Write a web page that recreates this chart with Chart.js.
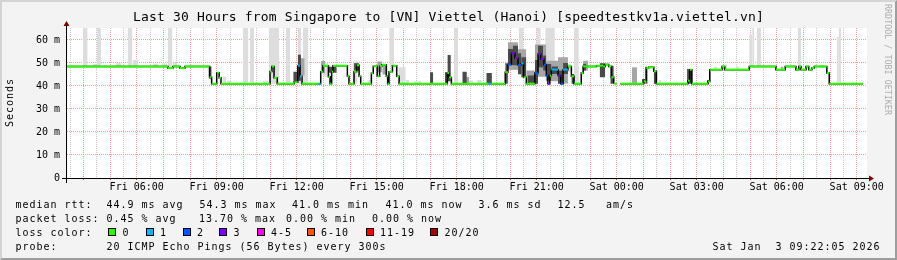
<!DOCTYPE html>
<html>
<head>
<meta charset="utf-8">
<script src="https://cdn.jsdelivr.net/npm/chart.js@4/dist/chart.umd.min.js"></script>
<style>
  html, body { margin: 0; padding: 0; background: #f3f3f3; }
  #wrap { position: relative; width: 897px; height: 260px; background: #f3f3f3; overflow: hidden; }
  #frame { position: absolute; left: 0; top: 0; width: 897px; height: 260px; box-sizing: border-box;
    border-top: 2px solid #d4d4d4; border-left: 2px solid #d4d4d4; border-right: 2px solid #9e9e9e; border-bottom: 2px solid #9e9e9e;
    pointer-events: none; z-index: 5; }
  canvas { position: absolute; left: 0; top: 0; }
  .t { position: absolute; font-family: 'DejaVu Sans Mono', monospace; white-space: pre; color: #000; line-height: 12px; }
  .lg { font-size: 10px; letter-spacing: 0.98px; }
  .box { position: absolute; width: 8px; height: 8px; box-sizing: border-box; border: 1px solid #000; }
</style>
</head>
<body>
<div id="wrap">
  <canvas id="smokeChart" width="897" height="260"></canvas>
  <div class="t" style="left:0;width:897px;text-align:center;top:9px;font-size:13px;line-height:16px;letter-spacing:0.16px;">Last 30 Hours from Singapore to [VN] Viettel (Hanoi) [speedtestkv1a.viettel.vn]</div>
  <div class="t lg" style="left:0;top:0;transform-origin:0 0;transform:translate(4px,127px) rotate(-90deg);">Seconds</div>
  <div class="t" style="left:0;top:0;font-size:8.4px;line-height:10px;color:#ababab;transform-origin:0 0;transform:translate(893px,4px) rotate(90deg);">RRDTOOL / TOBI OETIKER</div>
  <div id="legend"></div>
  <div id="frame"></div>
</div>
<script>
// time axis in hours since Fri 00:00
const xStart = 3.386, xEnd = 33.386;
const tickHours = [6, 9, 12, 15, 18, 21, 24, 27, 30, 33];
const tickLabels = ['Fri 06:00', 'Fri 09:00', 'Fri 12:00', 'Fri 15:00', 'Fri 18:00', 'Fri 21:00', 'Sat 00:00', 'Sat 03:00', 'Sat 06:00', 'Sat 09:00'];
const yMax = 65.2;

// median rtt, one entry per step (start hour, ms, loss class)
const medianHours = [
  3.39, 7.17, 7.36, 7.62, 7.81, 8.73, 8.81, 9.00, 9.09, 9.16,
  11.00, 11.07, 11.15, 11.27, 11.91, 12.04, 12.12, 12.20, 12.82, 12.90,
  12.98, 13.19, 13.25, 13.31, 13.36, 13.90, 13.96, 14.15, 14.25, 14.34,
  14.40, 14.80, 14.87, 15.02, 15.11, 15.20, 15.36, 15.41, 15.46, 15.59,
  15.75, 15.84, 17.65, 17.71, 17.80, 19.20, 19.30, 19.82, 19.92, 20.05,
  20.18, 20.30, 20.42, 20.51, 20.61, 20.93, 21.05, 21.15, 21.27, 21.36,
  21.42, 21.49, 21.55, 21.80, 21.90, 21.99, 22.17, 22.30, 22.40, 22.67,
  22.74, 23.24, 23.49, 23.57, 23.70, 23.80, 23.89, 24.01, 24.14, 25.01,
  25.11, 25.20, 25.39, 25.49, 26.67, 26.74, 26.82, 27.42, 27.49, 27.95,
  28.05, 28.97, 29.97, 30.32, 30.72, 30.83, 30.91, 31.10, 31.20, 31.32,
  31.41, 31.88, 31.97
];
const medianMs = [
  48.5, 47.8, 48.5, 47.8, 48.5, 43.8, 41, 45.8, 43.6, 41,
  46.3, 48.5, 43.6, 41, 41.6, 48.8, 44.2, 41, 41, 46.2,
  48.8, 44, 41, 46.2, 48.8, 44.2, 41, 46.2, 49, 44.2,
  41, 45.5, 48.6, 44.2, 48.7, 49.2, 44.2, 41, 46.2, 48.8,
  44.2, 41, 45.6, 43.7, 41, 41, 41, 46, 49.3, 54.2,
  52.2, 49.1, 49.8, 43.8, 41, 45.6, 53.9, 51.7, 49.3, 44.6,
  41, 44.5, 47.1, 44.5, 41, 47.1, 48.5, 44.2, 41, 45.6,
  48.5, 48.8, 48.5, 49.3, 48.5, 43.8, 41, null, 41, 42,
  47.8, 48.1, 46.4, 41, 42.3, 47.1, 41, 42, 47.1, 48.5,
  47.1, 48.5, 47.1, 48.5, 47.1, 48.5, 47.1, 48.5, 47.1, 47.8,
  48.5, 45.6, 41
];
const medianLoss = [
  0, 0, 0, 0, 0, 0, 0, 0, 0, 0,
  0, 0, 0, 0, 0, 1, 1, 0, 1, 0,
  0, 0, 0, 0, 0, 0, 0, 0, 0, 0,
  0, 0, 0, 0, 0, 0, 0, 0, 0, 0,
  0, 0, 0, 0, 0, 1, 0, 0, 2, 3,
  3, 2, 1, 0, 0, 2, 3, 3, 2, 2,
  3, 0, 1, 3, 2, 1, 0, 0, 0, 0,
  0, 0, 0, 0, 0, 0, 0, 0, 0, 0,
  0, 0, 0, 0, 0, 0, 0, 0, 0, 0,
  0, 0, 0, 0, 0, 0, 0, 0, 0, 0,
  0, 0, 0
];
const medianEnd = 33.23;

const lossLabels = ['0', '1', '2', '3', '4-5', '6-10', '11-19', '20/20'];
const lossColors = ['#26ff00', '#00b8ff', '#0059ff', '#7e00ff', '#ff00ff', '#ff5500', '#ff0000', '#a10000'];

// smoke: [from hour, to hour, low ms, high ms]
const smokeLight = [
  [3.98, 4.16, 48.5, 70], [4.35, 4.50, 48.5, 49.6], [4.50, 4.66, 48.5, 70], [5.22, 5.41, 48.5, 50],
  [5.66, 5.84, 48.5, 70], [5.86, 6.05, 48.5, 51.3], [6.61, 6.80, 48.5, 49.7], [6.95, 7.14, 48.5, 49.8],
  [7.17, 7.34, 48.5, 70], [7.36, 7.51, 48.5, 50], [9.22, 9.35, 41, 44], [9.38, 9.56, 41, 42.3],
  [9.98, 10.19, 41, 70], [10.25, 10.40, 41, 70], [10.73, 10.94, 41, 42.3], [10.96, 11.35, 41, 70],
  [11.60, 11.75, 41, 70], [12.04, 12.16, 41, 70], [12.23, 12.44, 41, 70], [13.00, 13.19, 44, 49.9],
  [14.09, 14.27, 41, 50.7], [14.65, 14.78, 41, 42.6], [15.47, 15.65, 48.8, 70], [15.81, 16.09, 41, 48.1],
  [16.09, 16.21, 41, 42.6], [16.40, 16.67, 41, 42], [17.90, 18.05, 41, 70], [18.43, 18.62, 41, 42.3],
  [18.75, 18.94, 41, 42.6], [20.33, 20.49, 45, 70], [20.99, 21.15, 45, 70], [21.32, 21.68, 42, 70],
  [22.17, 22.30, 46, 49.6], [22.40, 22.58, 41, 70], [25.57, 25.67, 41, 42.6], [27.64, 27.76, 47.1, 48.4],
  [28.05, 28.14, 47.1, 49.3], [28.48, 28.60, 47.1, 48.4], [28.97, 29.08, 48.5, 62.3], [29.08, 29.16, 48.5, 70],
  [29.25, 29.41, 48.5, 70], [30.79, 30.91, 48.5, 70], [32.25, 32.33, 41, 61.4], [32.33, 32.41, 41, 70],
  [32.79, 32.93, 41, 41.6]
];
const smokeMid = [
  [12.14, 12.30, 44.5, 52], [12.90, 13.06, 45.5, 50.9], [15.02, 15.21, 46, 50.6], [15.21, 15.40, 45, 49.6],
  [18.35, 18.47, 41, 44], [19.92, 20.30, 47, 59], [20.30, 20.61, 45, 56], [20.61, 20.93, 41, 46.7],
  [20.93, 21.36, 44, 58], [21.36, 21.80, 42, 51], [21.80, 22.17, 41, 52.5], [22.74, 22.93, 46.7, 51],
  [24.57, 24.76, 41, 48.1], [30.16, 30.26, 47.1, 48.4]
];
const smokeDark = [
  [8.72, 8.81, 43, 48.5], [11.87, 12.04, 41.5, 46.2], [12.04, 12.16, 42.3, 53.6], [13.19, 13.50, 45.8, 48.4],
  [14.15, 14.34, 46.6, 49.9], [17.00, 17.12, 41, 46], [17.56, 17.65, 41, 46], [17.65, 17.78, 42, 53.5],
  [18.21, 18.38, 41, 46.2], [19.11, 19.32, 41, 45.6], [19.82, 19.92, 41, 49.9], [19.92, 20.11, 49.1, 56.1],
  [20.11, 20.30, 49, 57.5], [20.30, 20.42, 45.2, 54.2], [20.42, 20.61, 43.8, 52.5], [20.66, 20.93, 41, 44.5],
  [20.93, 21.05, 41, 51.3], [21.05, 21.24, 48.1, 57.5], [21.24, 21.36, 46.7, 53.2], [21.36, 21.55, 42.3, 49.6],
  [21.55, 21.80, 45.2, 48.5], [21.80, 21.99, 41, 46.7], [21.99, 22.17, 45.2, 50], [22.30, 22.40, 41, 45.2],
  [22.74, 22.85, 46.7, 49.6], [23.36, 23.57, 43.8, 49.9], [23.76, 23.89, 41, 48.8], [24.95, 25.07, 41, 43],
  [25.07, 25.16, 41, 48.4], [25.39, 25.51, 41, 46.7], [26.64, 26.82, 41, 47.4], [27.39, 27.47, 41, 42.6]
];

// legend lines: [left, baseline, text]
const legendText = [
  [16, 208.5, 'median rtt:'], [107, 208.5, '44.9 ms avg'], [200, 208.5, '54.3 ms max'], [292.5, 208.5, '41.0 ms min'],
  [386, 208.5, '41.0 ms now'], [479, 208.5, '3.6 ms sd'], [558, 208.5, '12.5'], [606.5, 208.5, 'am/s'],
  [16, 222.3, 'packet loss:'], [107, 222.3, '0.45 % avg'], [199.5, 222.3, '13.70 % max'], [286.5, 222.3, '0.00 % min'],
  [372.5, 222.3, '0.00 % now'],
  [16, 236.2, 'loss color:'],
  [16, 250, 'probe:'], [107, 250, '20 ICMP Echo Pings (56 Bytes) every 300s'], [713, 250, 'Sat Jan  3 09:22:05 2026']
];
const lossBoxX = [108, 145.5, 182.5, 219, 256.5, 306.5, 365.5, 430];

// ---- legend html
const legend = document.getElementById('legend');
legendText.forEach(([x, y, s]) => {
  const d = document.createElement('div');
  d.className = 't lg';
  d.style.left = (x - 0.6) + 'px';
  d.style.top = (y - 9.5) + 'px';
  d.textContent = s;
  legend.appendChild(d);
});
lossBoxX.forEach((x, i) => {
  const b = document.createElement('div');
  b.className = 'box';
  b.style.left = x + 'px';
  b.style.top = '228px';
  b.style.background = lossColors[i];
  legend.appendChild(b);
  const d = document.createElement('div');
  d.className = 't lg';
  d.style.left = (x + 14.6) + 'px';
  d.style.top = (236.2 - 9.5) + 'px';
  d.textContent = lossLabels[i];
  legend.appendChild(d);
});

// ---- datasets
function smokePair(boxes, color, order) {
  const top = [], bottom = [];
  boxes.forEach(([a, b, lo, hi]) => {
    top.push({ x: a, y: hi }, { x: b, y: hi }, { x: b, y: null });
    bottom.push({ x: a, y: lo }, { x: b, y: lo }, { x: b, y: null });
  });
  const base = { borderWidth: 0, borderColor: 'transparent', pointRadius: 0, spanGaps: false, order: order };
  return [
    { ...base, data: top, fill: false },
    { ...base, data: bottom, fill: { target: '-1', above: color, below: color }, backgroundColor: color }
  ];
}

const stepPts = medianHours.map((h, i) => ({ x: h, y: medianMs[i] }));
stepPts.push({ x: medianEnd, y: medianMs[medianMs.length - 1] });

const runPts = [], runOf = [];
medianHours.forEach((h, i) => {
  const next = i + 1 < medianHours.length ? medianHours[i + 1] : medianEnd;
  if (medianMs[i] === null) return;
  runPts.push({ x: h, y: medianMs[i] }, { x: next, y: medianMs[i] }, { x: next, y: null });
  runOf.push(i, i, i);
});

const datasets = [
  ...smokePair(smokeLight, '#dddddd', 6),
  ...smokePair(smokeMid, '#a6a6a6', 5),
  ...smokePair(smokeDark, '#4a4a4a', 4),
  { data: stepPts, stepped: true, borderColor: '#000', borderWidth: 1.5, pointRadius: 0, spanGaps: false, fill: false, order: 3 },
  { data: runPts, borderColor: '#26ff00', borderWidth: 2, borderCapStyle: 'butt', pointRadius: 0, spanGaps: false, fill: false, order: 2,
    segment: { borderColor: ctx => lossColors[medianLoss[runOf[ctx.p0DataIndex]]] } }
];

// plot background and axis arrows
const plotFrame = {
  id: 'plotFrame',
  beforeDraw(chart) {
    const { ctx, chartArea: a } = chart;
    ctx.save();
    ctx.fillStyle = '#ffffff';
    ctx.fillRect(a.left, a.top, a.right - a.left, a.bottom - a.top);
    ctx.restore();
  },
  afterDraw(chart) {
    const { ctx, chartArea: a } = chart;
    const yb = Math.round(a.bottom) + 0.5, xl = Math.round(a.left) - 0.5;
    ctx.save();
    ctx.strokeStyle = '#000';
    ctx.lineWidth = 1;
    ctx.beginPath();
    ctx.moveTo(a.left - 5, yb); ctx.lineTo(a.right + 3, yb);
    ctx.moveTo(xl, a.bottom + 5); ctx.lineTo(xl, a.top - 3);
    ctx.stroke();
    ctx.fillStyle = '#7f0000';
    ctx.beginPath();
    ctx.moveTo(xl, a.top - 7); ctx.lineTo(xl - 3, a.top - 2); ctx.lineTo(xl + 3, a.top - 2); ctx.closePath();
    ctx.moveTo(a.right + 7, yb); ctx.lineTo(a.right + 2, yb - 3); ctx.lineTo(a.right + 2, yb + 3); ctx.closePath();
    ctx.fill();
    ctx.restore();
  }
};

const isWhole = v => Math.abs(v - Math.round(v)) < 1e-6;
const gridRed = '#f2a0a0', gridGray = '#c8c8c8';
const monoFont = { family: "'DejaVu Sans Mono', monospace", size: 10 };

new Chart(document.getElementById('smokeChart'), {
  type: 'line',
  data: { datasets },
  options: {
    responsive: false,
    devicePixelRatio: 1,
    animation: false,
    events: [],
    layout: { padding: { left: 0, top: 28, right: 30, bottom: 62 } },
    plugins: { legend: { display: false }, tooltip: { enabled: false }, title: { display: false } },
    scales: {
      x: {
        type: 'linear', min: xStart, max: xEnd,
        afterBuildTicks: axis => {
          const t = [];
          for (let h = 3.5; h <= xEnd; h += 0.5) t.push({ value: h });
          axis.ticks = t;
        },
        afterFit: axis => { axis.height = 20; },
        ticks: {
          autoSkip: false, maxRotation: 0, minRotation: 0, padding: 1,
          color: '#000', font: monoFont,
          callback: v => { const i = tickHours.findIndex(h => Math.abs(h - v) < 1e-6); return i >= 0 ? tickLabels[i] : ''; }
        },
        grid: {
          color: ctx => isWhole(ctx.tick.value) ? gridRed : gridGray,
          lineWidth: 1, drawTicks: true, tickLength: 2,
          tickColor: ctx => isWhole(ctx.tick.value) ? '#f04040' : 'transparent',
          tickBorderDash: []
        },
        border: { display: false, dash: [1, 1] }
      },
      y: {
        min: 0, max: yMax,
        afterFit: axis => { axis.width = 67; },
        ticks: {
          stepSize: 5, padding: 7, color: '#000', font: monoFont,
          callback: v => v === 0 ? '0' : (isWhole(v / 10) ? v + ' m' : '')
        },
        grid: {
          color: ctx => isWhole(ctx.tick.value / 10) ? gridRed : gridGray,
          lineWidth: 1, drawTicks: false
        },
        border: { display: false, dash: [1, 1] }
      }
    }
  },
  plugins: [plotFrame]
});
</script>
</body>
</html>
